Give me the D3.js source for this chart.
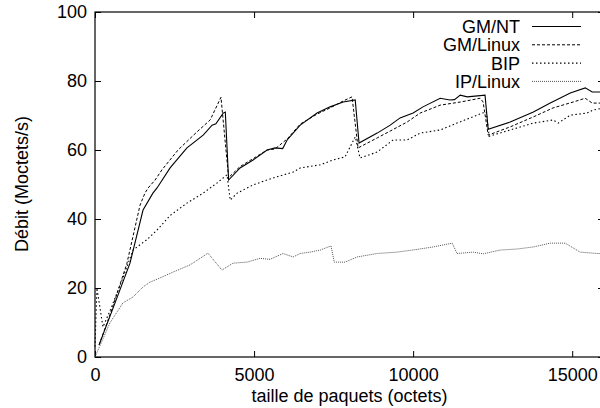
<!DOCTYPE html>
<html><head><meta charset="utf-8">
<script src="https://cdn.jsdelivr.net/npm/d3@7"></script>
<style>
html,body{margin:0;padding:0;background:#fff;}
svg{display:block;}
text{font-family:"Liberation Sans",Arial,sans-serif;font-size:18px;fill:#000;}
</style></head>
<body>
<script>
const xTicks = [0, 5000, 10000, 15000];
const yTicks = [0, 20, 40, 60, 80, 100];
const seriesNames = ["GM/NT", "GM/Linux", "BIP", "IP/Linux"];

const gmntX = [128,630,1100,1510,1820,1950,2360,2890,3400,3680,3800,4030,4096,4200,4560,4970,5410,5660,5900,6040,6450,6980,7390,7800,8180,8300,8870,9280,9590,10000,10310,10850,11160,11300,11480,11700,12260,12360,13050,13780,14310,14940,15410,15630,16000];
const gmntY = [3.5,15.7,27.2,42.6,47.5,49,54.8,60.6,64.3,67.2,67.6,70.7,71,51.3,54.8,57.1,60,60.6,60.4,62.9,67.2,70.7,72.5,73.9,74.5,62,64.9,67.2,69.3,70.7,72.5,75,74.5,74.6,75.9,75.4,75.9,66,68.1,71,73.6,76.5,78,76.8,76.8];

const gmlinuxX = [128,500,1000,1415,1570,1670,1890,2100,2610,3200,3620,3960,4200,4560,4970,5410,5660,6040,6450,6980,7390,7800,8080,8270,8870,9280,9810,10220,10850,11480,12110,12200,12360,13050,13780,14400,15030,15410,15630,16000];
const gmlinuxY = [3.5,13,27,44,47.5,49,51.3,54.2,60,65.2,68.7,75.3,52,55.2,57.5,60,60.3,63.2,67.5,70.4,72.2,74.2,75.4,60.6,63.5,65.5,68.1,70.7,73,73.9,75,73.9,64.3,66.7,69.6,72.2,73.9,75,73.6,73.6];

const bipX = [0,60,250,500,880,1195,1630,1950,2360,2890,3400,3830,4150,4250,4470,4970,5600,6230,6450,7080,7480,7860,8180,8330,8870,9370,9810,10220,10850,11380,12170,12300,12390,13050,13780,14400,14560,14940,15470,15660,16000];
const bipY = [3,20,8.7,14,23,31,34,36.8,41,44.6,47.5,50.4,52.8,45.5,47.5,49.9,51.9,53.6,54.8,55.7,57.1,58,63.8,57.7,59.4,62.9,62.9,64.9,65.8,67.8,70.7,71,64,65.8,67.8,68.7,67.8,70.1,70.7,71.6,72.2];

const iplinuxX = [0,470,880,1195,1510,1730,2040,2450,2990,3550,3990,4340,4780,5190,5500,5910,6230,6450,6760,7080,7420,7520,7860,8240,8870,9500,10130,10630,11230,11380,11890,12200,12740,13270,13780,14310,14780,15250,15790,16000];
const iplinuxY = [0,9.9,15.7,17.4,20.3,21.7,22.9,24.6,26.7,30.1,25.2,27.2,27.5,28.6,28.3,30,29,30,30.4,31,32.2,27.5,27.5,29,30,30.4,31.2,31.9,33,30,30.4,29.9,31,31.3,31.9,33,33,30.4,30,30];

const W = 600, H = 408;
const m = {left: 95, top: 12, right: 604, bottom: 357};

const svg = d3.select("body").append("svg").attr("width", W).attr("height", H);

const x = d3.scaleLinear().domain([0, 16000]).range([m.left, m.right]);
const y = d3.scaleLinear().domain([0, 100]).range([m.bottom, m.top]);

const styles = [
  {stroke: "#000", dash: null, w: 1.1},
  {stroke: "#000", dash: "3,2", w: 1},
  {stroke: "#000", dash: "1.5,2.5", w: 1.1},
  {stroke: "#555", dash: "1,1", w: 1}
];

const series = [
  {name: seriesNames[0], xs: gmntX, ys: gmntY},
  {name: seriesNames[1], xs: gmlinuxX, ys: gmlinuxY},
  {name: seriesNames[2], xs: bipX, ys: bipY},
  {name: seriesNames[3], xs: iplinuxX, ys: iplinuxY}
];

function styleAxis(g){
  g.select(".domain").remove();
  g.selectAll(".tick line").attr("stroke", "#000").attr("stroke-width", 1);
  g.selectAll(".tick text").style("font-family", '"Liberation Sans",Arial,sans-serif').style("font-size", "18px").attr("fill", "#000");
}
svg.append("g").attr("transform", `translate(0,${m.bottom})`)
  .call(d3.axisBottom(x).tickValues(xTicks).tickSizeInner(-6).tickSizeOuter(0).tickPadding(11).tickFormat(d3.format("d")))
  .call(styleAxis);
svg.append("g").attr("transform", `translate(0,${m.top})`)
  .call(d3.axisTop(x).tickValues(xTicks).tickSizeInner(-6).tickSizeOuter(0).tickFormat(""))
  .call(styleAxis);
svg.append("g").attr("transform", `translate(${m.left},0)`)
  .call(d3.axisLeft(y).tickValues(yTicks).tickSizeInner(-6).tickSizeOuter(0).tickPadding(8).tickFormat(d3.format("d")))
  .call(styleAxis);
svg.append("g").attr("transform", `translate(${m.right},0)`)
  .call(d3.axisRight(y).tickValues(yTicks).tickSizeInner(-6).tickSizeOuter(0).tickFormat(""))
  .call(styleAxis);

svg.append("rect").attr("x", m.left).attr("y", m.top)
  .attr("width", m.right - m.left).attr("height", m.bottom - m.top)
  .attr("fill", "none").attr("stroke", "#000").attr("stroke-width", 1.2);

const line = d3.line().x(d => x(d[0])).y(d => y(d[1]));
series.forEach((s, i) => {
  const pts = s.xs.map((v, k) => [v, s.ys[k]]);
  svg.append("path").datum(pts).attr("d", line)
    .attr("fill", "none").attr("stroke", styles[i].stroke)
    .attr("stroke-width", styles[i].w)
    .attr("stroke-dasharray", styles[i].dash);
});

const legBase = [33, 51.3, 69.6, 87.9];
series.forEach((s, i) => {
  svg.append("text").attr("x", 520).attr("y", legBase[i]).attr("text-anchor", "end").text(s.name);
  svg.append("line").attr("x1", 532).attr("x2", 581)
    .attr("y1", legBase[i] - 6.5).attr("y2", legBase[i] - 6.5)
    .attr("stroke", styles[i].stroke).attr("stroke-width", styles[i].w)
    .attr("stroke-dasharray", styles[i].dash);
});

svg.append("text").attr("x", (m.left + m.right) / 2).attr("y", 402)
  .attr("text-anchor", "middle").text("taille de paquets (octets)");
svg.append("text").attr("transform", "translate(28,184) rotate(-90)")
  .attr("text-anchor", "middle").text("Débit (Moctets/s)");
</script>
</body></html>
